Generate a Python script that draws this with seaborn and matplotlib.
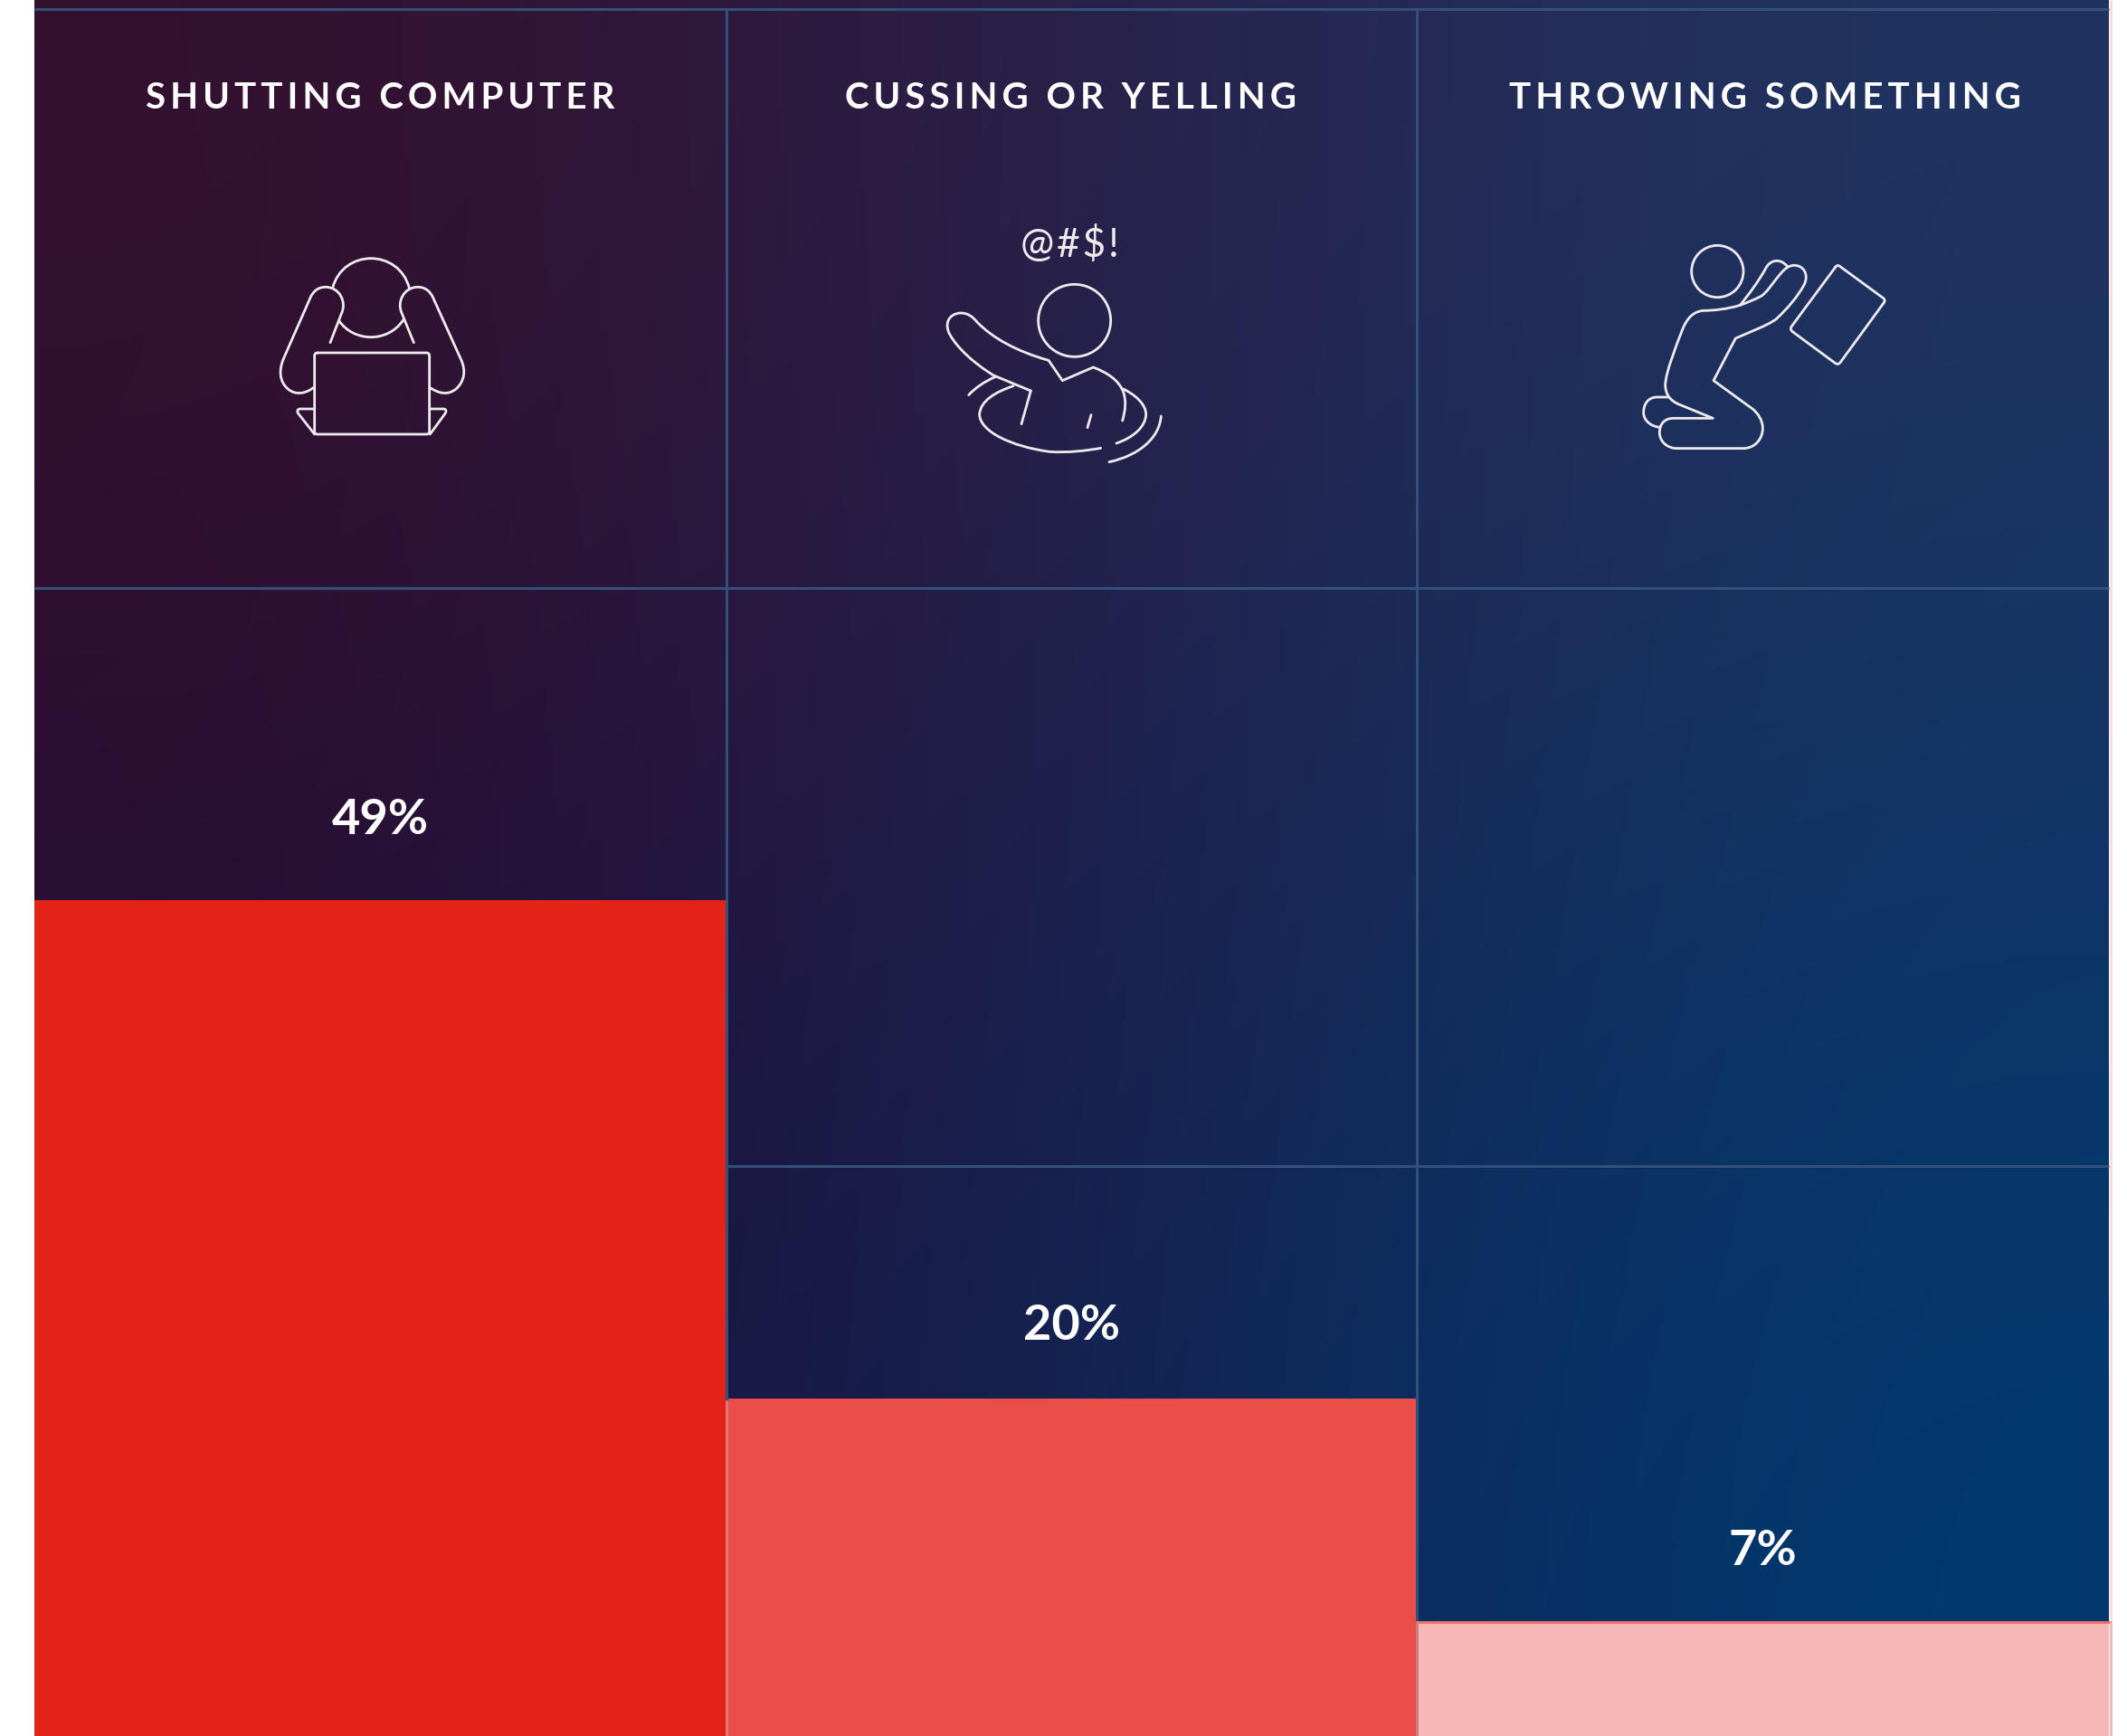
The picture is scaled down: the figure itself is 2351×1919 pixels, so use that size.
"""Rage-at-the-computer chart: three reactions, share of respondents, with line icons."""
import numpy as np
import pandas as pd
import matplotlib.pyplot as plt
import seaborn as sns
from matplotlib.path import Path
from matplotlib.patches import PathPatch, Circle

W, H = 2351, 1919
FONT = ["Lato", "DejaVu Sans"]
THIN = "\u2009"
HAIR = "\u200a"

actions = ["SHUTTING COMPUTER", "CUSSING OR YELLING", "THROWING SOMETHING"]
shares = [49, 20, 7]
bar_colors = ["#E32317", "#E94E48", "#F5B8B6"]
label_pad_px = [88, 81, 79]

# background colour field, 3x3 (rows top to bottom, columns left to right)
bg_colors = np.array([
    [[53, 16, 46], [41, 33, 74], [33, 52, 97]],
    [[42, 13, 48], [28, 32, 78], [14, 54, 103]],
    [[24, 16, 56], [20, 34, 82], [0, 58, 112]],
]) / 255

LINE = "#EFEAEE"
GRID = "#33507A"

sns.set_style("white")
plt.rcParams["font.family"] = FONT

fig = plt.figure(figsize=(W / 100, H / 100), dpi=100, facecolor="white")

# main axes: pixel x 38..2331, y scale fitted so 0 sits just under the crop
LEFT, RIGHT = 38, 2331
ZERO_PX, PX_PER_PCT = 1926.5, 19.02
ax = fig.add_axes([LEFT / W, 0, (RIGHT - LEFT) / W, 1])
ax.imshow(bg_colors, extent=(-0.5, 2.5, (ZERO_PX - H) / PX_PER_PCT, ZERO_PX / PX_PER_PCT),
          aspect="auto", interpolation="bicubic", zorder=0)

df = pd.DataFrame({"action": actions, "share": shares})
sns.barplot(data=df, x="action", y="share", hue="action", order=actions, hue_order=actions,
            palette=bar_colors, width=1.0, legend=False, saturation=1, linewidth=0,
            edgecolor="none", ax=ax, zorder=3)
ax.set_xlim(-0.5, 2.5)
ax.set_ylim((ZERO_PX - H) / PX_PER_PCT, ZERO_PX / PX_PER_PCT)
ax.axis("off")

for i, (v, pad) in enumerate(zip(shares, label_pad_px)):
    ax.annotate(f"{v}%", (i, v), xytext=(0, pad * 0.72), textcoords="offset points",
                ha="center", va="center", color="white", fontsize=39, fontweight="bold",
                family=FONT, zorder=5)

# overlay in image pixels for the grid and icons
ov = fig.add_axes([0, 0, 1, 1], facecolor="none")
ov.set_xlim(0, W)
ov.set_ylim(H, 0)
ov.axis("off")

PX = 0.72
grid_kw = dict(color=GRID, lw=3 * PX, zorder=1)
ov.hlines(10, LEFT, 2331, **grid_kw)
ov.hlines(650, LEFT, 2331, **grid_kw)
ov.hlines(1289, 802, 2331, **grid_kw)
ov.vlines(802.5, 10, 1548, **grid_kw)
ov.vlines(1566, 10, 1792, **grid_kw)
# soft seams on the bars
ov.vlines(802.5, 1548, H, color="#D67C7C", lw=3 * PX)
ov.vlines(1566, 1792, H, color="#D07C7C", lw=3 * PX)
ov.hlines(1793, 1566, 2334, color="#EE6E6C", lw=3 * PX)
ov.vlines(2332.5, 0, 1792, color="#F7DDE0", lw=3 * PX)
ov.vlines(2332.5, 1793, H, color=bar_colors[2], lw=3 * PX)

for x, name in zip([420, 1184, 1951], actions):
    ov.text(x, 108, THIN.join(name), ha="center", va="center", color="white",
            fontsize=29, fontweight="bold", family=FONT)
ov.text(1183, 271, HAIR.join("@#$!"), ha="center", va="center", color=LINE, fontsize=32, family=FONT)


def stroke(spec, origin):
    """spec is a flat list like M x y / L x y / C x1 y1 x2 y2 x y in 3x crop coordinates."""
    ox, oy = origin
    verts, codes = [], []
    i = 0
    while i < len(spec):
        cmd = spec[i]
        n = {"M": 1, "L": 1, "C": 3, "Q": 2}[cmd]
        code = {"M": Path.MOVETO, "L": Path.LINETO, "C": Path.CURVE4, "Q": Path.CURVE3}[cmd]
        for k in range(n):
            verts.append((ox + spec[i + 1 + 2 * k] / 3, oy + spec[i + 2 + 2 * k] / 3))
            codes.append(code)
        i += 1 + 2 * n
    ov.add_patch(PathPatch(Path(verts, codes), fill=False, edgecolor=LINE, lw=2.8 * PX,
                           capstyle="round", joinstyle="round", zorder=6))


def ring(cx, cy, r, origin):
    ov.add_patch(Circle((origin[0] + cx / 3, origin[1] + cy / 3), r / 3, fill=False,
                        edgecolor=LINE, lw=2.8 * PX, zorder=6))


# icon 1: head in hands over a laptop
o1 = (280, 240)
for s in [
    "M 263 235 C 280 170 335 137 390 137 C 445 137 500 170 517 235",
    "M 285 345 C 310 380 350 398 390 398 C 430 398 472 380 498 340",
    "M 255 416 L 293 318 C 310 280 285 232 240 232 C 215 232 200 245 190 265 L 100 470 C 85 505 85 545 115 570 C 140 592 175 585 200 565",
    "M 532 416 L 492 318 C 475 280 500 232 545 232 C 570 232 585 245 595 265 L 690 475 C 705 510 700 545 672 570 C 645 592 615 585 585 565",
    "M 213 450 L 574 450 Q 584 450 584 460 L 584 710 Q 584 720 574 720 L 213 720 Q 203 720 203 710 L 203 460 Q 203 450 213 450",
    "M 200 636 L 154 636 Q 143 638 148 650 L 203 720",
    "M 586 636 L 632 636 Q 643 638 637 650 L 586 720",
]:
    stroke([t if t.isalpha() else float(t) for t in s.split()], o1)

# icon 2: shouting figure in a swirl
o2 = (1020, 230)
ring(503, 373, 120, o2)
for s in [
    "M 358 606 L 235 555 C 170 515 115 465 90 420 C 70 385 85 350 125 348 C 150 348 165 360 180 378 C 230 430 310 475 417 505 L 463 572 L 565 528 C 610 545 650 570 665 610 C 675 640 672 670 662 705",
    "M 358 606 L 327 716",
    "M 558 686 L 546 728",
    "M 152 620 C 175 595 205 575 240 560",
    "M 300 590 C 240 610 190 640 188 685 C 190 740 290 790 420 808 C 480 812 540 805 590 796",
    "M 665 600 C 705 620 740 650 740 685 C 738 725 700 760 642 780",
    "M 790 690 C 785 760 720 820 618 842",
]:
    stroke([t if t.isalpha() else float(t) for t in s.split()], o2)

# icon 3: kneeling figure throwing a tablet
o3 = (1790, 250)
ring(325, 150, 86, o3)
for s in [
    "M 400 262 C 360 275 310 280 280 280 C 245 282 225 305 210 340 C 185 405 155 480 152 525 C 152 560 170 580 200 592 L 310 637 L 180 637 C 150 637 133 655 133 685 C 133 715 160 737 190 737 L 410 737 C 450 737 475 705 475 670 C 475 645 460 620 440 605 L 312 512 L 385 372 C 430 352 490 330 520 308 C 560 270 590 235 612 195 C 630 160 610 130 580 130 C 555 130 540 150 520 175 C 500 200 490 218 470 232 C 445 245 420 255 400 262",
    "M 400 262 C 430 225 460 185 485 140 C 500 110 535 105 558 135",
    "M 162 567 L 125 567 C 95 567 80 590 80 618 C 80 645 105 665 135 667",
    "M 716 136 Q 722 126 732 134 L 874 238 Q 884 245 876 255 L 733 451 Q 725 462 715 454 L 574 350 Q 564 342 571 332 L 716 136",
]:
    stroke([t if t.isalpha() else float(t) for t in s.split()], o3)

fig.savefig("out.png", dpi=100, facecolor="white")
